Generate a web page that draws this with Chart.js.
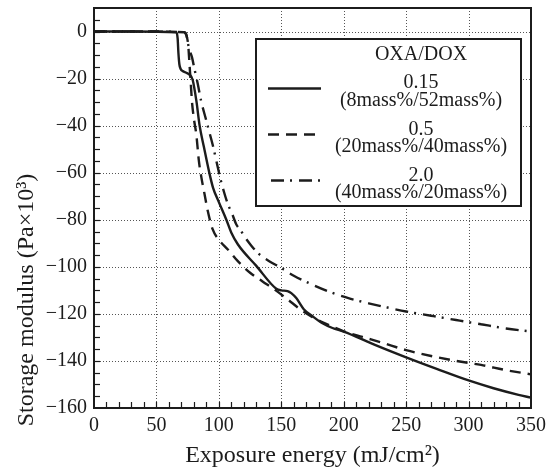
<!DOCTYPE html>
<html><head><meta charset="utf-8">
<script src="https://cdn.jsdelivr.net/npm/chart.js@4.4.1/dist/chart.umd.min.js"></script>
<style>html,body{margin:0;padding:0;background:#fff}#wrap{width:550px;height:473px}</style>
</head><body><div id="wrap"><canvas id="c" width="550" height="473"></canvas></div>
<script>
// ---- data ----
const xTicks = [0, 50, 100, 150, 200, 250, 300, 350];
const yTicks = [-160, -140, -120, -100, -80, -60, -40, -20, 0];
const xTitle = 'Exposure energy (mJ/cm\u00B2)';
const yTitle = 'Storage modulus (Pa\u00D710\u00B3)';
const legendTitle = 'OXA/DOX';
const seriesNames = ['0.15', '0.5', '2.0'];
const seriesSub = ['(8mass%/52mass%)', '(20mass%/40mass%)', '(40mass%/20mass%)'];

const energyA = [0, 30, 66, 67, 67.6, 68.4, 69.5, 71, 73, 76.5, 79, 82, 84.6, 88, 92.6, 95.3, 100, 106, 110, 115.3, 130, 146, 150, 155, 158, 162, 168, 175, 183, 191, 200, 225, 250, 275, 300, 320, 340, 350];
const modulusA = [0, 0, -0.3, -3, -9, -14, -16, -16.8, -17.3, -18.3, -20.5, -29.5, -40, -49, -60.6, -66.3, -72.5, -80, -85.5, -90.5, -99.6, -109.3, -110, -110.3, -111.2, -113.3, -118, -121, -124, -126, -127.5, -133.2, -138.5, -143.5, -148.3, -151.6, -154.4, -155.6];

const energyB = [0, 40, 72, 74, 75.5, 76.5, 77.5, 78.5, 80, 82, 84, 86, 88.5, 91, 95, 100, 107, 115, 125, 135, 145, 155, 165, 175, 185, 200, 215, 230, 250, 270, 290, 310, 330, 350];
const modulusB = [0, 0, -0.3, -1.5, -6, -14, -22, -30, -37, -44, -55, -62, -69, -76, -84, -88.5, -92.5, -97.5, -102.5, -106.2, -109.8, -113.8, -118, -121.4, -124, -127.4, -129.8, -132.1, -135.4, -137.9, -140, -141.7, -143.9, -145.7];

const energyC = [0, 40, 72, 74, 76, 78.5, 80.5, 83, 86, 89, 92, 95, 98, 101, 104, 107, 111, 114, 117.5, 121, 126, 132, 140, 150, 160, 175, 190, 205, 220, 235, 250, 270, 290, 310, 330, 350];
const modulusC = [0, 0, -0.3, -1.5, -7, -11, -16, -22, -30, -36, -42, -48, -55, -62, -68, -73, -78, -82, -84.5, -87.5, -91, -94.5, -97.5, -100.5, -103.8, -107.6, -110.9, -113.5, -115.5, -117.3, -119, -120.8, -122.6, -124.4, -126.2, -127.5];

const dashes = [[], [11, 7], [13, 6, 2, 7]];
const INK = '#1c1c1c';
const FONT = 'Liberation Serif, DejaVu Serif, serif';

function pts(xs, ys) { return xs.map((x, i) => ({x: x, y: ys[i]})); }
function fmt(v) { return v < 0 ? '\u2212' + Math.abs(v) : String(v); }

const datasets = [pts(energyA, modulusA), pts(energyB, modulusB), pts(energyC, modulusC)].map((d, i) => ({
  label: seriesNames[i] + ' ' + seriesSub[i],
  data: d,
  showLine: true,
  borderColor: INK,
  borderWidth: 2.4,
  borderDash: dashes[i],
  pointRadius: 0,
  cubicInterpolationMode: 'monotone',
  fill: false
}));

const framePlugin = {
  id: 'frame',
  beforeDatasetsDraw(chart) {
    const {ctx, chartArea: a, scales: {x, y}} = chart;
    ctx.save();
    ctx.strokeStyle = '#555';
    ctx.lineWidth = 1;
    ctx.setLineDash([1, 2]);
    xTicks.forEach(v => {
      if (v <= x.min || v >= x.max) return;
      const px = Math.round(x.getPixelForValue(v)) + 0.5;
      ctx.beginPath(); ctx.moveTo(px, a.top); ctx.lineTo(px, a.bottom); ctx.stroke();
    });
    yTicks.forEach(v => {
      if (v <= y.min || v >= y.max) return;
      const py = Math.round(y.getPixelForValue(v)) + 0.5;
      ctx.beginPath(); ctx.moveTo(a.left, py); ctx.lineTo(a.right, py); ctx.stroke();
    });
    ctx.restore();
  },
  afterDatasetsDraw(chart) {
    const {ctx, chartArea: a, scales: {x, y}} = chart;
    ctx.save();
    ctx.strokeStyle = INK;
    ctx.setLineDash([]);
    ctx.lineWidth = 1.2;
    for (let v = x.min + 10; v < x.max; v += 10) {
      const px = Math.round(x.getPixelForValue(v)) + 0.5;
      ctx.beginPath(); ctx.moveTo(px, a.bottom); ctx.lineTo(px, a.bottom - 6); ctx.stroke();
    }
    for (let v = y.min + 5; v < y.max; v += 5) {
      const py = Math.round(y.getPixelForValue(v)) + 0.5;
      ctx.beginPath(); ctx.moveTo(a.left, py); ctx.lineTo(a.left + 6, py); ctx.stroke();
    }
    ctx.lineWidth = 2;
    ctx.strokeRect(a.left, a.top, a.right - a.left, a.bottom - a.top);

    // y-axis title (rotated)
    ctx.save();
    ctx.fillStyle = INK;
    ctx.font = '24px ' + FONT;
    ctx.textAlign = 'center';
    ctx.textBaseline = 'middle';
    ctx.translate(27, 300);
    ctx.rotate(-Math.PI / 2);
    ctx.fillText(yTitle, 0, 0);
    ctx.restore();

    // legend
    const bx = 256, by = 39, bw = 265, bh = 167;
    ctx.fillStyle = '#fff';
    ctx.fillRect(bx, by, bw, bh);
    ctx.lineWidth = 2;
    ctx.strokeRect(bx, by, bw, bh);
    ctx.fillStyle = INK;
    ctx.textAlign = 'center';
    ctx.textBaseline = 'middle';
    ctx.font = '20px ' + FONT;
    const cx = 421;
    ctx.fillText(legendTitle, cx, 55);
    for (let i = 0; i < 3; i++) {
      const yy = 83 + i * 46.3;
      ctx.fillText(seriesNames[i], cx, yy);
      ctx.fillText(seriesSub[i], cx, yy + 17.5);
      ctx.lineWidth = 2.6;
      ctx.setLineDash(dashes[i]);
      ctx.beginPath();
      const ly = Math.round(yy + 4.5) + 0.5;
      ctx.moveTo(i === 2 ? 271 : 268, ly); ctx.lineTo(i === 2 ? 325 : 321, ly);
      ctx.stroke();
      ctx.setLineDash([]);
    }
    ctx.restore();
  }
};

new Chart(document.getElementById('c'), {
  type: 'scatter',
  data: {datasets},
  options: {
    responsive: false,
    animation: false,
    layout: {padding: {top: 8, right: 19, left: 0, bottom: 0}},
    plugins: {legend: {display: false}, tooltip: {enabled: false}},
    scales: {
      x: {
        type: 'linear', min: 0, max: 350,
        afterFit(s) { s.height = 65; s.paddingLeft = 0; s.paddingRight = 0; },
        grid: {display: false, drawTicks: false},
        border: {display: false},
        ticks: {stepSize: 50, padding: 6, color: INK, font: {family: FONT, size: 20}, callback: v => xTicks.includes(v) ? fmt(v) : '', maxRotation: 0, autoSkip: false},
        title: {display: true, text: xTitle, color: INK, font: {family: FONT, size: 24}, padding: {top: 0, bottom: 3}}
      },
      y: {
        type: 'linear', min: -160, max: 10,
        afterFit(s) { s.width = 94; s.paddingTop = 0; s.paddingBottom = 0; },
        grid: {display: false, drawTicks: false},
        border: {display: false},
        ticks: {stepSize: 20, includeBounds: false, padding: 7, color: INK, font: {family: FONT, size: 20}, callback: v => yTicks.includes(v) ? fmt(v) : '', autoSkip: false}
      }
    }
  },
  plugins: [framePlugin]
});
</script>
</body></html>
